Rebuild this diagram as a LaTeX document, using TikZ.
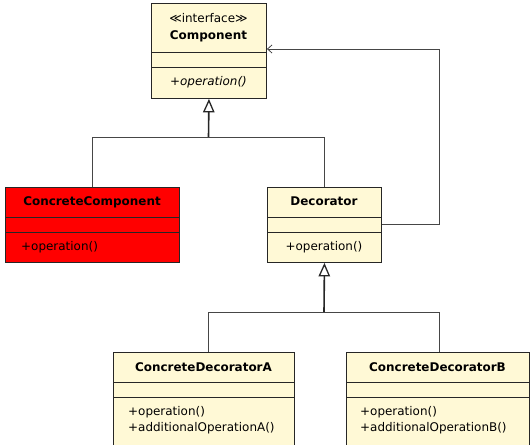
\documentclass[tikz,border=0pt]{standalone}
\usepackage{fontspec}
\setmainfont{DejaVu Sans}
\usetikzlibrary{arrows.meta}
\definecolor{cream}{RGB}{255,249,214}
\definecolor{edgegray}{RGB}{70,70,70}
\begin{document}
\begin{tikzpicture}[x=1bp,y=-1bp,
  cls/.style={draw=black!85, line width=0.9bp, fill=cream, rectangle, inner sep=0, anchor=north west},
  redcls/.style={cls, fill=red},
  sep/.style={draw=black!85, line width=0.9bp},
  txt/.style={font=\fontsize{12}{14}\selectfont, inner sep=0, anchor=base},
  txtl/.style={txt, anchor=base west},
  ttl/.style={font=\bfseries\fontsize{12}{14}\selectfont, inner sep=0, anchor=base},
  conn/.style={draw=edgegray, line width=0.9bp},
  gen/.style={draw=black!85, line width=1.6bp, -{Triangle[open, length=13.5bp, width=11.5bp, line width=1.3bp]}},
  assoc/.style={conn, -{Straight Barb[length=4.5bp, width=8bp, line width=0.8bp]}},
]
\useasboundingbox (0,0) rectangle (530,445);
\clip (0,0) rectangle (530,445);

% Component
\node[cls, minimum width=115bp, minimum height=95bp] (comp) at (151,3) {};
\draw[sep] ([yshift=-49bp]comp.north west) -- ([yshift=-49bp]comp.north east);
\draw[sep] ([yshift=-64bp]comp.north west) -- ([yshift=-64bp]comp.north east);
\node[txt] (compst) at (208.5,22.5) {\symbol{"226A}interface\symbol{"226B}};
\node[ttl] (compname) at (208.5,40) {Component};
\node[txt] (compop) at (208.5,86) {\itshape +operation()};

% ConcreteComponent
\node[redcls, minimum width=174bp, minimum height=75bp] (cc) at (5,187) {};
\draw[sep] ([yshift=-30bp]cc.north west) -- ([yshift=-30bp]cc.north east);
\draw[sep] ([yshift=-45bp]cc.north west) -- ([yshift=-45bp]cc.north east);
\node[ttl] (ccname) at (92,206) {ConcreteComponent};
\node[txtl] (ccop) at (21,251) {+operation()};

% Decorator
\node[cls, minimum width=114bp, minimum height=75bp] (dec) at (267,187) {};
\draw[sep] ([yshift=-30bp]dec.north west) -- ([yshift=-30bp]dec.north east);
\draw[sep] ([yshift=-45bp]dec.north west) -- ([yshift=-45bp]dec.north east);
\node[ttl] (decname) at (324,206) {Decorator};
\node[txt] (decop) at (324,251) {+operation()};

% ConcreteDecoratorA
\node[cls, minimum width=181bp, minimum height=100bp] (cda) at (113,352) {};
\draw[sep] ([yshift=-30bp]cda.north west) -- ([yshift=-30bp]cda.north east);
\draw[sep] ([yshift=-45bp]cda.north west) -- ([yshift=-45bp]cda.north east);
\node[ttl] (cdaname) at (203.5,371) {ConcreteDecoratorA};
\node[txtl] (cdaop1) at (128,415) {+operation()};
\node[txtl] (cdaop2) at (128,431) {+additionalOperationA()};

% ConcreteDecoratorB
\node[cls, minimum width=183bp, minimum height=100bp] (cdb) at (346,352) {};
\draw[sep] ([yshift=-30bp]cdb.north west) -- ([yshift=-30bp]cdb.north east);
\draw[sep] ([yshift=-45bp]cdb.north west) -- ([yshift=-45bp]cdb.north east);
\node[ttl] (cdbname) at (437.5,371) {ConcreteDecoratorB};
\node[txtl] (cdbop1) at (360,415) {+operation()};
\node[txtl] (cdbop2) at (360,431) {+additionalOperationB()};

% generalization Component
\coordinate (j1) at (208.5,137);
\draw[conn] (cc.north) |- (j1);
\draw[conn] (dec.north) |- (j1);
\draw[gen] (j1) -- (comp.south);

% generalization Decorator
\coordinate (j2) at (324,312);
\draw[conn] ([xshift=95bp]cda.north west) |- (j2);
\draw[conn] ([xshift=93bp]cdb.north west) |- (j2);
\draw[gen] (j2) -- (dec.south);

% association Decorator -> Component
\coordinate (turn) at (439,49);
\draw[assoc] (dec.east) -| (turn) -- (comp.east |- turn);
\end{tikzpicture}
\end{document}
